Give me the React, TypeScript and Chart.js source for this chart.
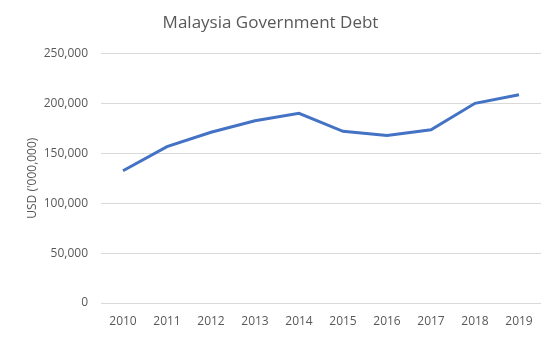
import React, { useEffect, useRef } from "react";
import { Chart, registerables } from "chart.js";

Chart.register(...registerables);

const years = ["2010", "2011", "2012", "2013", "2014", "2015", "2016", "2017", "2018", "2019"];
const debt = [132500, 156600, 171000, 182500, 190000, 172000, 167800, 173500, 200000, 208500];
const chartTitle = "Malaysia Government Debt";
const yAxisTitle = "USD ('000,000)";

export default function App() {
  const ref = useRef<HTMLCanvasElement | null>(null);
  useEffect(() => {
    document.body.style.margin = "0";
    const ctx = ref.current!;
    const chart = new Chart(ctx, {
      type: "line",
      data: {
        labels: years,
        datasets: [
          {
            data: debt,
            borderColor: "#4472C4",
            borderWidth: 3,
            pointRadius: 0,
            tension: 0,
            fill: false,
          },
        ],
      },
      options: {
        animation: false,
        responsive: false,
        maintainAspectRatio: false,
        layout: { padding: { left: 0, right: 17, top: 0, bottom: 10 } },
        plugins: {
          legend: { display: false },
          tooltip: { enabled: false },
          title: {
            display: true,
            text: chartTitle,
            color: "#595959",
            font: { family: "'Open Sans', sans-serif", size: 17, weight: "normal" },
            padding: { top: 13, bottom: 20 },
          },
        },
        scales: {
          x: {
            offset: true,
            grid: { display: false, drawTicks: false },
            border: { display: false },
            afterFit: (scale: any) => {
              scale.height = 24;
            },
            ticks: {
              color: "#595959",
              font: { family: "'Open Sans', sans-serif", size: 12 },
              padding: 11,
              maxRotation: 0,
            },
          },
          y: {
            min: 0,
            max: 250000,
            afterFit: (scale: any) => {
              scale.width = 101;
            },
            grid: { color: "#d9d9d9", drawTicks: false, lineWidth: 1 },
            border: { display: false },
            ticks: {
              stepSize: 50000,
              color: "#595959",
              font: { family: "'Open Sans', sans-serif", size: 12 },
              padding: 13,
              callback: (v: any) => Number(v).toLocaleString("en-US"),
            },
            title: {
              display: true,
              text: yAxisTitle,
              color: "#595959",
              font: { family: "'Open Sans', sans-serif", size: 12 },
              padding: { top: 25, bottom: 0 },
            },
          },
        },
      },
    });
    return () => chart.destroy();
  }, []);
  return (
    <div style={{ width: 558, height: 337 }}>
      <canvas ref={ref} width={558} height={337} style={{ display: "block" }} />
    </div>
  );
}
